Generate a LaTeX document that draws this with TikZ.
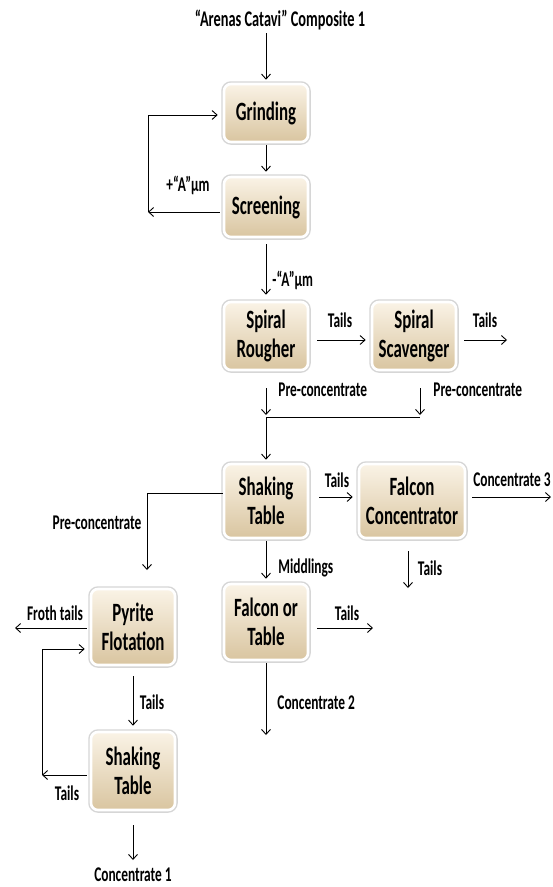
\documentclass[tikz,border=0pt]{standalone}
\usepackage{fontspec}
\newfontfamily\cf{Carlito}[FakeStretch=0.64]
\usetikzlibrary{arrows.meta}
\definecolor{boxtop}{HTML}{FAF3E6}
\definecolor{boxmid}{HTML}{F2E6CF}
\definecolor{boxbot}{HTML}{D9C5A0}
\begin{document}
\begin{tikzpicture}[x=1bp,y=-1bp,
  >={Straight Barb[length=5bp,width=9bp]},
  line width=0.9bp,
  box/.style={rounded corners=7bp, draw=white, line width=2.6bp,
    top color=boxtop, middle color=boxmid, bottom color=boxbot,
    preaction={draw=black!16, line width=5.5bp},
    font=\cf\bfseries\fontsize{26.5}{29}\selectfont, align=center,
    minimum width=84bp, minimum height=68bp, inner sep=2bp},
  lab/.style={font=\cf\bfseries\fontsize{21}{22}\selectfont, inner sep=0pt},
  arr/.style={->}]
\useasboundingbox (0,0) rectangle (553,887);
% nodes
\node[lab, font=\cf\bfseries\fontsize{22.5}{23}\selectfont] (title) at (280,20) {“Arenas Catavi” Composite 1};
\node[box, minimum height=58bp] (grind) at (266,113) {Grinding};
\node[box, minimum height=60bp] (screen) at (266,207) {Screening};
\node[box] (rough) at (266,336) {Spiral\\Rougher};
\node[box] (scav) at (414,336) {Spiral\\Scavenger};
\node[box, minimum height=74bp] (shake) at (266,501) {Shaking\\Table};
\node[box, minimum width=106bp, minimum height=74bp] (falcon) at (412,501) {Falcon\\Concentrator};
\node[box, minimum height=76bp] (fot) at (266,622) {Falcon or\\Table};
\node[box, minimum height=76bp] (pyr) at (133,627) {Pyrite\\Flotation};
\node[box, minimum height=78bp] (shake2) at (133,771) {Shaking\\Table};
% coordinates
\coordinate (fbA) at (148,212);
\coordinate (fbB) at (148,115);
\coordinate (rs) at (0,340);
\coordinate (scavout) at (507,340);
\coordinate (j1) at (266,417);
\coordinate (j2) at (420,417);
\coordinate (sf) at (0,497);
\coordinate (c3) at (551,497);
\coordinate (ft) at (408,588);
\coordinate (sp) at (147,493);
\coordinate (sp2) at (147,570);
\coordinate (ftt) at (373,628);
\coordinate (c2) at (266,735);
\coordinate (fr) at (15,628);
\coordinate (la) at (42,775);
\coordinate (lb) at (42,649);
\coordinate (c1) at (133,860);
% connectors
\draw[arr, shorten <=3bp, shorten >=3bp] (grind.north |- title.south) -- (grind.north);
\draw[arr, shorten <=2bp, shorten >=4bp] (grind.south) -- (screen.north);
\draw[arr, shorten <=3bp] (screen.west |- fbA) -- (fbA);
\draw[arr, shorten >=5bp] (fbA) -- (fbB) -- (grind.west |- fbB);
\draw[arr, shorten <=6bp, shorten >=6bp] (screen.south) -- (rough.north);
\draw[arr, shorten <=8bp, shorten >=5bp] (rough.east |- rs) -- (scav.west |- rs);
\draw[arr, shorten <=7bp] (scav.east |- scavout) -- (scavout);
\draw[arr, shorten <=17bp, shorten >=2bp] (rough.south) -- (j1);
\draw[arr, shorten <=17bp, shorten >=2bp] (j2 |- scav.south) -- (j2);
\draw (j1) -- (j2);
\draw[arr, shorten >=3bp] (j1) -- (shake.north);
\draw[arr, shorten <=10bp, shorten >=5bp] (shake.east |- sf) -- (falcon.west |- sf);
\draw[arr, shorten <=6bp] (falcon.east |- c3) -- (c3);
\draw[arr, shorten <=12bp] (ft |- falcon.south) -- (ft);
\draw[arr] (shake.west |- sp) -- (sp) -- (sp2);
\draw[arr, shorten <=2bp, shorten >=4bp] (shake.south) -- (fot.north);
\draw[arr, shorten <=8bp] (fot.east |- ftt) -- (ftt);
\draw[arr, shorten <=2bp] (fot.south) -- (c2);
\draw[arr, shorten <=3bp] (pyr.west |- fr) -- (fr);
\draw[arr, shorten <=10bp, shorten >=5bp] (pyr.south) -- (shake2.north);
\draw[arr, shorten <=3bp] (shake2.west |- la) -- (la);
\draw[arr, shorten >=5bp] (la) -- (lb) -- (pyr.west |- lb);
\draw[arr, shorten <=14bp] (shake2.south) -- (c1);
% labels
\node[lab] (l1) at (188,185) {+“A”µm};
\node[lab, anchor=west] (l2) at (272,280) {-“A”µm};
\node[lab] (l3) at (340,320) {Tails};
\node[lab] (l4) at (485,320) {Tails};
\node[lab, anchor=west] (l5) at (278,390) {Pre-concentrate};
\node[lab, anchor=west] (l6) at (433,390) {Pre-concentrate};
\node[lab] (l7) at (337,480) {Tails};
\node[lab] (l8) at (512,480) {Concentrate 3};
\node[lab] (l9) at (430,568) {Tails};
\node[lab] (l10) at (97,523) {Pre-concentrate};
\node[lab, anchor=west] (l11) at (278,568) {Middlings};
\node[lab] (l12) at (347,613) {Tails};
\node[lab, anchor=west] (l13) at (277,703) {Concentrate 2};
\node[lab] (l14) at (55,613) {Froth tails};
\node[lab] (l15) at (152,702) {Tails};
\node[lab] (l16) at (67,793) {Tails};
\node[lab] (l17) at (133,875) {Concentrate 1};
\end{tikzpicture}
\end{document}
